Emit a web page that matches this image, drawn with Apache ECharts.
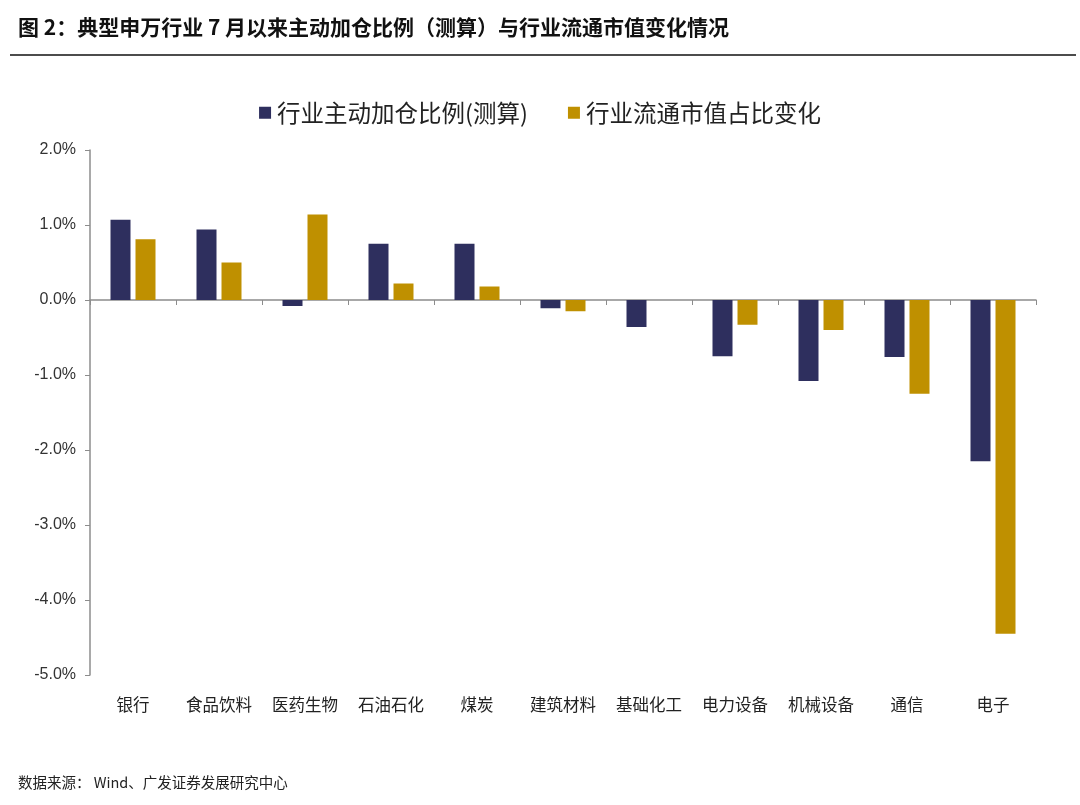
<!DOCTYPE html>
<html>
<head>
<meta charset="utf-8">
<script src="https://cdn.jsdelivr.net/npm/echarts@6/dist/echarts.min.js"></script>
<style>
  html, body { margin: 0; padding: 0; background: #fff; }
  #main { width: 1080px; height: 805px; }
</style>
</head>
<body>
<div id="main"></div>
<script>
var categories = ['银行', '食品饮料', '医药生物', '石油石化', '煤炭', '建筑材料', '基础化工', '电力设备', '机械设备', '通信', '电子'];
// 行业主动加仓比例(测算), %
var activeAdd = [1.07, 0.94, -0.08, 0.75, 0.75, -0.11, -0.36, -0.75, -1.08, -0.76, -2.15];
// 行业流通市值占比变化, %
var capShareChange = [0.81, 0.50, 1.14, 0.22, 0.18, -0.15, 0, -0.33, -0.40, -1.25, -4.45];
var seriesNames = ['行业主动加仓比例(测算)', '行业流通市值占比变化'];
var yTicks = { min: -5, max: 2, step: 1 };

var cjk = '"Noto Sans CJK SC", "Noto Sans", sans-serif';
var myChart = echarts.init(document.getElementById('main'));

myChart.setOption({
  backgroundColor: '#fff',
  animation: false,
  title: [{
    text: '图 2：典型申万行业 7 月以来主动加仓比例（测算）与行业流通市值变化情况',
    left: 13, top: 12,
    textStyle: { fontFamily: cjk, fontSize: 21, fontWeight: 'bold', color: '#111' }
  }, {
    text: '数据来源： Wind、广发证券发展研究中心',
    left: 13, top: 770,
    textStyle: { fontFamily: cjk, fontSize: 14.5, fontWeight: 'normal', color: '#222' }
  }],
  graphic: [{
    type: 'line',
    shape: { x1: 10, y1: 55, x2: 1076, y2: 55 },
    style: { stroke: '#111', lineWidth: 1.5 }
  }],
  legend: {
    top: 96, left: 'center',
    itemWidth: 12, itemHeight: 12, itemGap: 40,
    icon: 'rect',
    textStyle: { fontFamily: cjk, fontSize: 23.5, color: '#222', padding: [0, 0, 0, 1] },
    data: seriesNames
  },
  grid: { left: 90, right: 44, top: 150, bottom: 130 },
  xAxis: [{
    type: 'category',
    data: categories,
    axisLine: { onZero: true, lineStyle: { color: '#8c8c8c', width: 1.5 } },
    axisTick: { show: true, length: 5, lineStyle: { color: '#8c8c8c' } },
    axisLabel: { show: false }
  }, {
    type: 'category',
    data: categories,
    position: 'bottom',
    axisLine: { show: false, onZero: false },
    axisTick: { show: false },
    axisLabel: { margin: 21, fontFamily: cjk, fontSize: 16.5, color: '#222', interval: 0 }
  }],
  yAxis: {
    type: 'value',
    min: yTicks.min, max: yTicks.max, interval: yTicks.step,
    axisLine: { show: true, lineStyle: { color: '#8c8c8c', width: 1.5 } },
    axisTick: { show: true, length: 5, lineStyle: { color: '#8c8c8c' } },
    splitLine: { show: false },
    axisLabel: {
      margin: 14, fontFamily: 'Liberation Sans, Arial, sans-serif', fontSize: 16, color: '#333',
      formatter: function (v) { return v.toFixed(1) + '%'; }
    }
  },
  series: [{
    name: seriesNames[0],
    type: 'bar',
    xAxisIndex: 0,
    data: activeAdd,
    barWidth: 20,
    barGap: '25%',
    itemStyle: { color: '#2E2F5E' }
  }, {
    name: seriesNames[1],
    type: 'bar',
    xAxisIndex: 0,
    data: capShareChange,
    barWidth: 20,
    itemStyle: { color: '#BF9000' }
  }]
});
</script>
</body>
</html>
